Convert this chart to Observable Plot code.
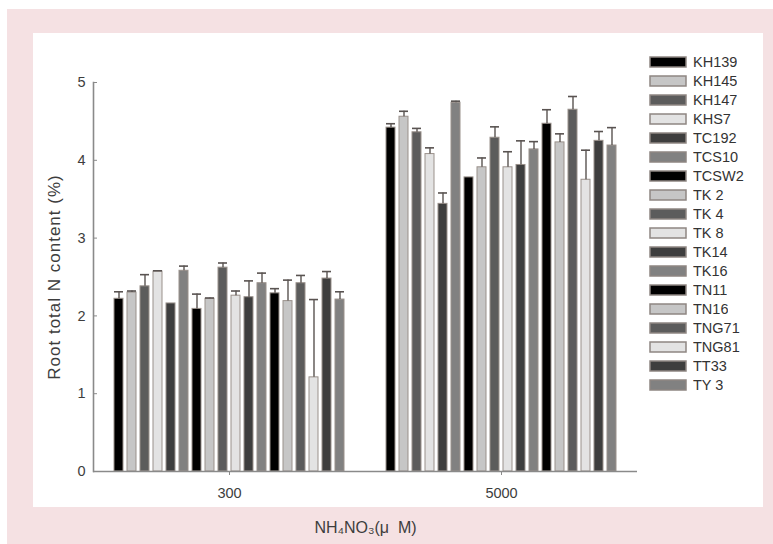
<!DOCTYPE html>
<html>
<head>
<meta charset="utf-8">
<script src="https://cdn.jsdelivr.net/npm/d3@7"></script>
<script src="https://cdn.jsdelivr.net/npm/@observablehq/plot@0.6"></script>
<style>
  body { margin: 0; background: #fff; }
  #wrap { position: relative; width: 773px; height: 544px; background: #fff; overflow: hidden; }
  #pink { position: absolute; left: 7px; top: 9px; right: 0; bottom: 0; background: #f5e1e3; }
  #panel { position: absolute; left: 33px; top: 33px; width: 730px; height: 474px; background: #fff; }
  #chart { position: absolute; left: 0; top: 0; }
  #legend { position: absolute; left: 650px; top: 52px; font-family: "Liberation Sans", Arial, sans-serif; }
  #legend > div { margin: 0 !important; font-size: 14.5px !important; font-family: "Liberation Sans", Arial, sans-serif !important; color: #333; }
  #legend > div > div { height: 19px; padding: 0 !important; margin: 0 !important; display: flex; align-items: center; }
  #legend svg { margin-right: 7px !important; }
  #legend svg rect { stroke: #8e8682; stroke-width: 1.5px; }
  g[aria-label="y-axis label"] text { font-size: 17px; letter-spacing: 1px; }
  g[aria-label="fx-axis label"] text { font-size: 16px; }
</style>
</head>
<body>
<div id="wrap">
  <div id="pink"></div>
  <div id="panel"></div>
  <div id="chart"></div>
  <div id="legend"></div>
</div>
<script>
const genotypes = ["KH139","KH145","KH147","KHS7","TC192","TCS10","TCSW2","TK 2","TK 4","TK 8","TK14","TK16","TN11","TN16","TNG71","TNG81","TT33","TY 3"];
const levels = ["300", "5000"];
const n300   = [2.22,2.30,2.38,2.57,2.16,2.58,2.09,2.22,2.62,2.26,2.24,2.42,2.29,2.19,2.42,1.21,2.48,2.21];
const err300 = [0.09,0.02,0.15,0.01,0.00,0.06,0.19,0.01,0.06,0.06,0.21,0.13,0.06,0.27,0.10,1.00,0.09,0.10];
const n5000   = [4.42,4.56,4.36,4.08,3.44,4.74,3.78,3.91,4.29,3.91,3.94,4.14,4.47,4.23,4.65,3.75,4.25,4.19];
const err5000 = [0.05,0.07,0.05,0.08,0.14,0.02,0.00,0.12,0.14,0.20,0.31,0.10,0.18,0.11,0.17,0.38,0.12,0.23];
const shades = ["#000000", "#c6c6c6", "#5c5c5c", "#e3e3e3", "#3e3e3e", "#818181"];
const yTicks = [0, 1, 2, 3, 4, 5];
const yLabel = "Root total N content (%)";
const xLabel = "NH\u2084NO\u2083(\u03bc\u00a0\u00a0M)";

const colors = genotypes.map((g, i) => shades[i % shades.length]);
const rows = [];
genotypes.forEach((g, i) => {
  rows.push({level: levels[0], genotype: g, value: n300[i], err: err300[i]});
  rows.push({level: levels[1], genotype: g, value: n5000[i], err: err5000[i]});
});
const withErr = rows.filter(d => d.err > 0);

const font = "'Liberation Sans', Arial, sans-serif";
const axisGray = "#8a8a8a";
const errColor = "#595351";

const chart = Plot.plot({
  width: 773,
  height: 544,
  marginLeft: 93,
  marginRight: 136,
  marginTop: 82,
  marginBottom: 73,
  style: {background: "transparent", fontFamily: font, color: "#3d3d3d", overflow: "visible"},
  fx: {domain: levels, padding: 0, axis: null, label: null},
  x: {domain: genotypes, paddingInner: 0.3, paddingOuter: 1.18, axis: null, label: null},
  y: {domain: [0, 5], axis: null},
  color: {domain: genotypes, range: colors},
  marks: [
    Plot.barY(rows, {fx: "level", x: "genotype", y: "value", fill: "genotype", stroke: "#9a918b", strokeWidth: 1}),
    Plot.ruleX(withErr, {fx: "level", x: "genotype", y1: "value", y2: d => d.value + d.err, stroke: errColor, strokeWidth: 1.4}),
    Plot.tickY(withErr, {fx: "level", x: "genotype", y: d => d.value + d.err, stroke: errColor, strokeWidth: 1.6}),
    Plot.ruleY([0], {stroke: axisGray, strokeWidth: 1.6}),
    Plot.frame({anchor: "left", facetAnchor: "left", stroke: axisGray, strokeWidth: 1.6}),
    Plot.axisY({ticks: yTicks, tickFormat: d3.format("d"), tickSize: -4, tickPadding: 12, fontSize: 14.5, stroke: axisGray, fill: "#3d3d3d",
      label: yLabel, labelAnchor: "center", labelArrow: "none", labelOffset: 46}),
    Plot.axisFx({anchor: "bottom", tickSize: 4, tickPadding: 12, fontSize: 14.5, stroke: axisGray, fill: "#3d3d3d",
      label: xLabel, labelAnchor: "center", labelArrow: "none", labelOffset: 61})
  ]
});
document.getElementById("chart").appendChild(chart);

const legend = Plot.legend({
  color: {type: "ordinal", domain: genotypes, range: colors},
  legend: "swatches",
  columns: 1,
  swatchWidth: 36,
  swatchHeight: 10
});
document.getElementById("legend").appendChild(legend);
</script>
</body>
</html>
